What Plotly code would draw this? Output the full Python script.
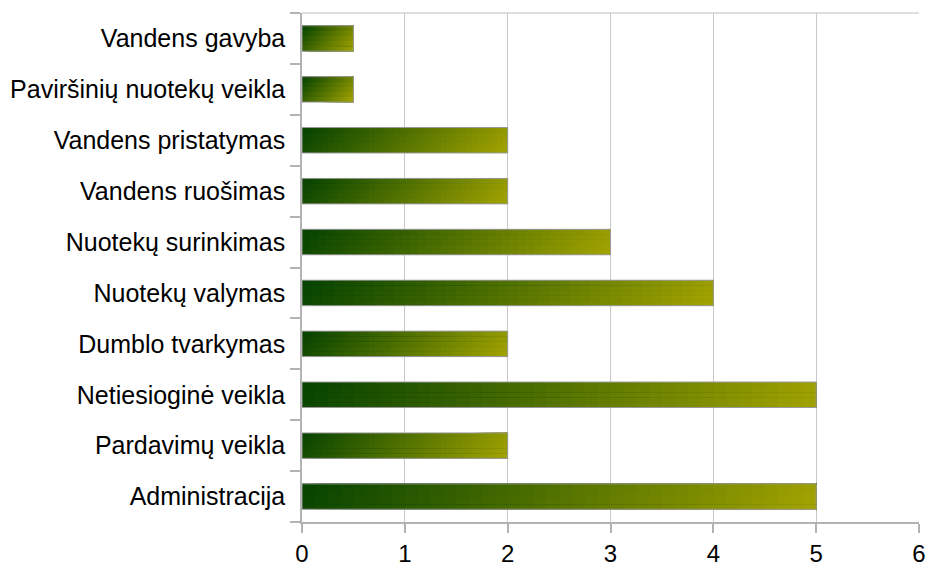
import plotly.graph_objects as go

categories = [
    "Administracija",
    "Pardavimų veikla",
    "Netiesioginė veikla",
    "Dumblo tvarkymas",
    "Nuotekų valymas",
    "Nuotekų surinkimas",
    "Vandens ruošimas",
    "Vandens pristatymas",
    "Paviršinių nuotekų veikla",
    "Vandens gavyba",
]
values = [5, 2, 5, 2, 4, 3, 2, 2, 0.5, 0.5]
x_ticks = [0, 1, 2, 3, 4, 5, 6]

# gradient styling
C0 = (4, 66, 0)
C1 = (164, 164, 0)
N_SEG = 40
M_SLICE = 5
BAR_W = 0.5
PX_PER_UNIT = 103.0
BAR_PX_H = 25.0


def mix(t):
    t = max(0.0, min(1.0, t))
    r = round(C0[0] + (C1[0] - C0[0]) * t)
    g = round(C0[1] + (C1[1] - C0[1]) * t)
    b = round(C0[2] + (C1[2] - C0[2]) * t)
    return f"rgb({r},{g},{b})"


fig = go.Figure()

# each piece extends to the bar's end / top so that later pieces overlap earlier ones (no seams)
for j in range(M_SLICE):
    v = 1 - (j + 0.5) / M_SLICE  # 0 at top
    for k in range(N_SEG):
        u = (k + 0.5) / N_SEG
        cols = []
        for val in values:
            W = val * PX_PER_UNIT
            t = (u * W + v * BAR_PX_H) / (W + BAR_PX_H)
            cols.append(mix(t))
        fig.add_trace(go.Bar(
            y=categories,
            x=[val * (N_SEG - k) / N_SEG for val in values],
            base=[val * k / N_SEG for val in values],
            orientation="h",
            width=BAR_W - j * BAR_W / M_SLICE,
            offset=-BAR_W / 2 + j * BAR_W / M_SLICE,
            marker=dict(color=cols, line=dict(width=0)),
            showlegend=False,
            hoverinfo="skip",
        ))

# outline
fig.add_trace(go.Bar(
    y=categories,
    x=values,
    orientation="h",
    width=BAR_W,
    offset=-BAR_W / 2,
    marker=dict(color="rgba(0,0,0,0)", line=dict(color="#9a9a9a", width=1)),
    showlegend=False,
    hovertemplate="%{y}: %{x}<extra></extra>",
))

fig.update_layout(
    width=926,
    height=566,
    margin=dict(l=302, r=7, t=13, b=44),
    paper_bgcolor="white",
    plot_bgcolor="white",
    barmode="overlay",
    font=dict(family="Liberation Sans, Arial, sans-serif", size=25, color="#000000"),
    shapes=[dict(type="line", xref="paper", yref="paper", x0=0, x1=1, y0=1, y1=1,
                 line=dict(color="#d4d4d4", width=1.5))],
)
fig.update_xaxes(
    range=[0, 6],
    tickvals=x_ticks,
    ticktext=[str(t) for t in x_ticks],
    tickfont=dict(size=24),
    automargin=False,
    showgrid=True,
    gridcolor="#c8c8c8",
    gridwidth=1,
    zeroline=False,
    showline=True,
    linecolor="#b3b3b3",
    linewidth=1.5,
    ticks="outside",
    ticklen=9,
    tickcolor="#b3b3b3",
    tickwidth=1.5,
)
fig.update_yaxes(
    type="category",
    categoryorder="array",
    categoryarray=categories,
    automargin=False,
    tickson="boundaries",
    ticks="outside",
    ticklen=10,
    tickcolor="#b3b3b3",
    tickwidth=1.5,
    ticklabelstandoff=10,
    showgrid=False,
    showline=True,
    linecolor="#b3b3b3",
    linewidth=1.5,
)

fig.write_html(
    "out.html",
    config={"displayModeBar": False},
    post_script="document.body.style.margin='0';document.body.style.overflow='hidden';",
)
